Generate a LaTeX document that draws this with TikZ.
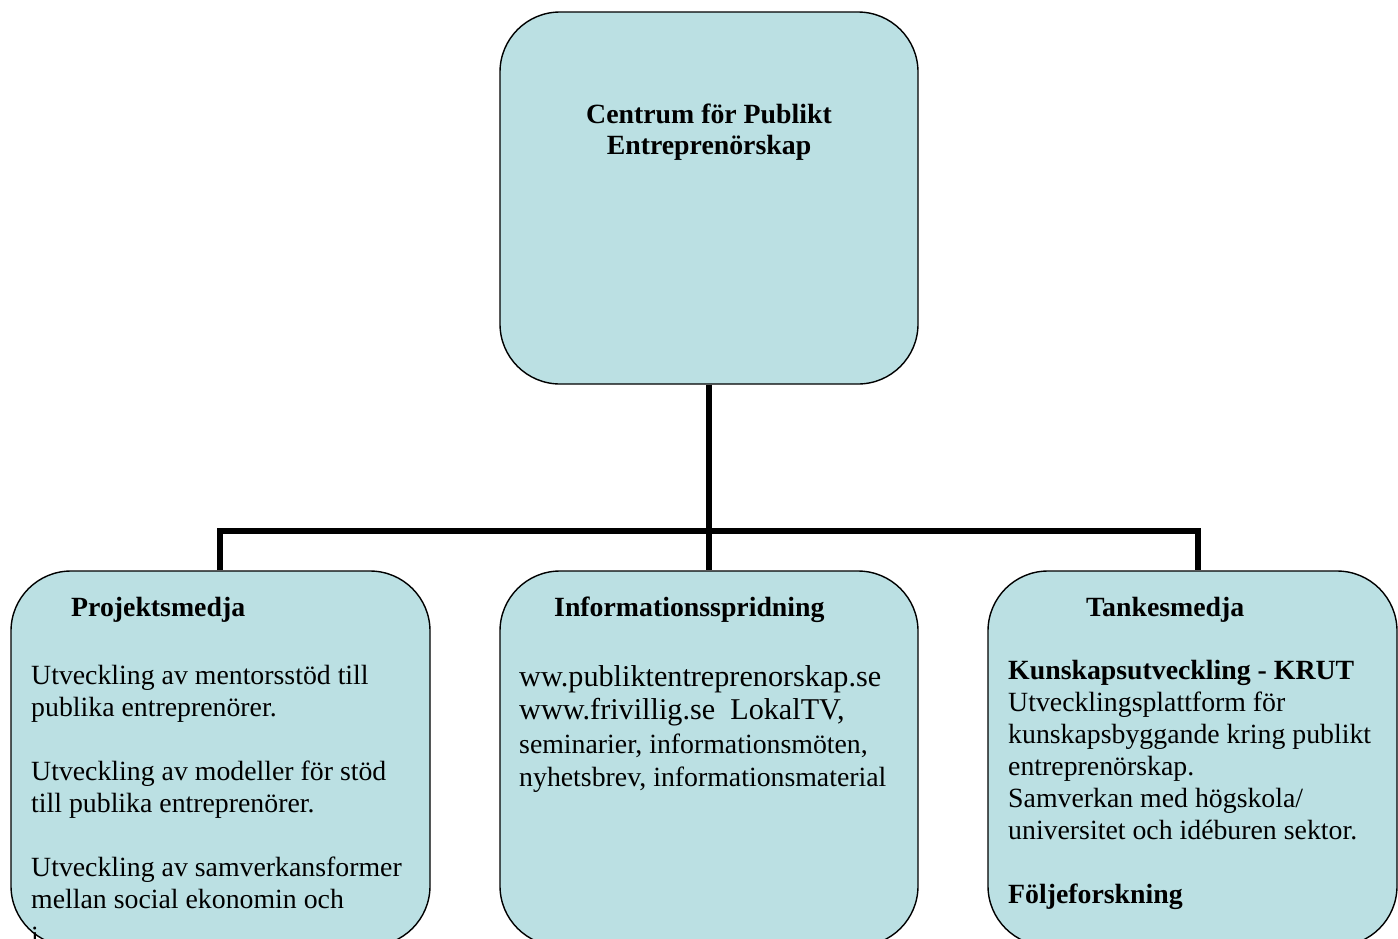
\documentclass[tikz,border=0pt]{standalone}
\usepackage{fontspec}
\setmainfont{Liberation Serif}
\definecolor{boxc}{RGB}{187,224,227}
\begin{document}
\begin{tikzpicture}[x=1pt,y=-1pt,
  box/.style={draw=black, line width=1.4pt, fill=boxc, rounded corners=60pt, inner sep=0pt},
  conn/.style={draw=black, line width=5.5pt, line join=miter},
  txt/.style={anchor=base west, inner sep=0pt, font=\fontsize{27.8}{32}\selectfont},
  btxt/.style={txt, font=\fontsize{27.8}{32}\selectfont\bfseries},
  ltxt/.style={txt, font=\fontsize{30.2}{34}\selectfont},
  ctxt/.style={btxt, anchor=base}]
\useasboundingbox (0,0) rectangle (1398,938);
\fill[white] (0,0) rectangle (1398,938);
% boxes
\node[box, minimum width=418pt, minimum height=372pt] (top) at (709,198) {};
\node[box, minimum width=419pt, minimum height=375pt] (left) at (220.5,758.5) {};
\node[box, minimum width=418pt, minimum height=375pt] (mid) at (709,758.5) {};
\node[box, minimum width=409pt, minimum height=375pt] (right) at (1192.5,758.5) {};
% connectors
\coordinate (jc) at (709,531);
\coordinate (jl) at (220,531);
\coordinate (jr) at (1198,531);
\draw[conn] (top.south) -- (jc);
\draw[conn] (jl |- left.north) -- (jl) -- (jr) -- (jr |- right.north);
\draw[conn] (jc) -- (mid.north);
% title
\node[ctxt] (t1) at (709,123) {Centrum för Publikt};
\node[ctxt] (t2) at (709,154) {Entreprenörskap};
% left box
\node[btxt] (l0) at (71,616) {Projektsmedja};
\node[txt] (l1) at (31,684) {Utveckling av mentorsstöd till};
\node[txt] (l2) at (31,716) {publika entreprenörer.};
\node[txt] (l3) at (31,780) {Utveckling av modeller för stöd};
\node[txt] (l4) at (31,812) {till publika entreprenörer.};
\node[txt] (l5) at (31,876) {Utveckling av samverkansformer};
\node[txt] (l6) at (31,908) {mellan social ekonomin och};
\node[txt] (l7) at (31,945) {i};
% middle box
\node[btxt] (m0) at (554,616) {Informationsspridning};
\node[ltxt] (m1) at (519,686) {ww.publiktentreprenorskap.se};
\node[ltxt] (m2) at (519,719) {www.frivillig.se\ \ LokalTV,};
\node[txt] (m3) at (519,753) {seminarier, informationsmöten,};
\node[txt] (m4) at (519,786) {nyhetsbrev, informationsmaterial};
% right box
\node[btxt] (r0) at (1086,616) {Tankesmedja};
\node[btxt] (r1) at (1008,679) {Kunskapsutveckling - KRUT};
\node[txt] (r2) at (1008,711) {Utvecklingsplattform för};
\node[txt] (r3) at (1008,743) {kunskapsbyggande kring publikt};
\node[txt] (r4) at (1008,775) {entreprenörskap.};
\node[txt] (r5) at (1008,807) {Samverkan med högskola/};
\node[txt] (r6) at (1008,839) {universitet och idéburen sektor.};
\node[btxt] (r7) at (1008,903) {Följeforskning};
\end{tikzpicture}
\end{document}
